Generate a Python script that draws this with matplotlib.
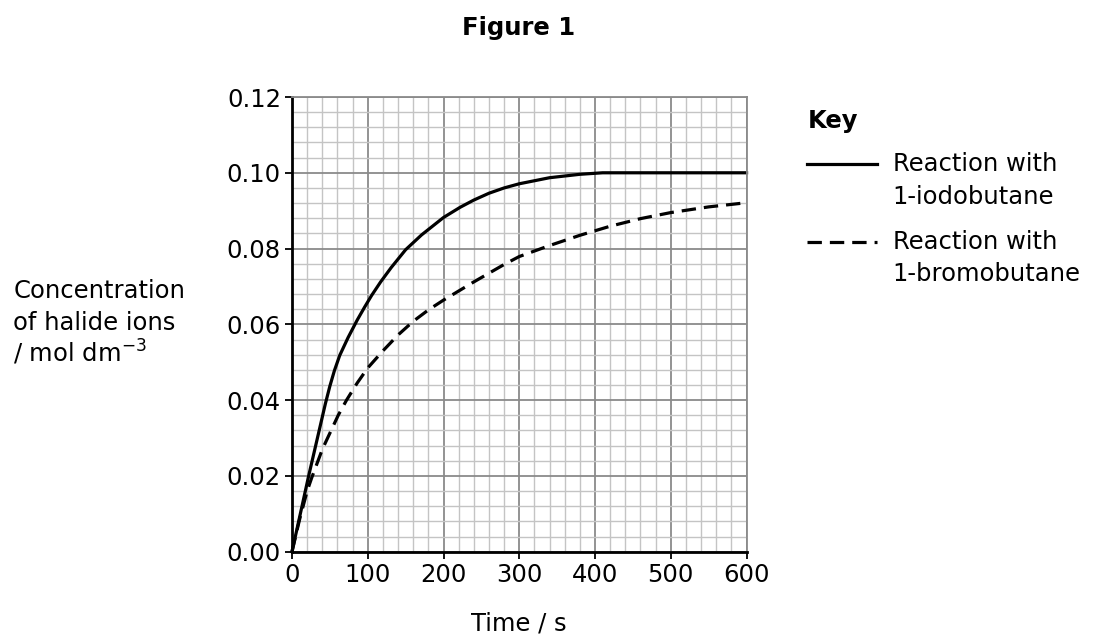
import numpy as np
import matplotlib
matplotlib.use("Agg")
import matplotlib.pyplot as plt
from matplotlib.ticker import MultipleLocator

plt.rcParams['font.family'] = ['DejaVu Sans']
plt.rcParams['mathtext.default'] = 'regular'

# values
iodo_t = [0, 22, 44, 50, 56, 63, 74, 86, 96, 105, 117, 131, 150, 171, 200, 222, 240, 260, 280, 300,
          340, 380, 410, 600]
iodo_c = [0, 0.0200, 0.0390, 0.0437, 0.0478, 0.0518, 0.0565, 0.0611, 0.0646, 0.0676, 0.0712, 0.0750,
          0.0797, 0.0836, 0.0882, 0.0909, 0.0928, 0.0946, 0.0960, 0.0971, 0.0987, 0.0996, 0.1000, 0.1000]

bromo_t = [0, 10, 20, 26, 40, 61, 72, 86, 100, 120, 140, 160, 180, 200, 240, 280, 300, 340, 380, 420,
           460, 500, 550, 600]
bromo_c = [0, 0.0085, 0.0160, 0.0195, 0.0270, 0.0360, 0.0400, 0.0445, 0.0485, 0.0530, 0.0572, 0.0608,
           0.0638, 0.0664, 0.0712, 0.0758, 0.0779, 0.0808, 0.0835, 0.0859, 0.0879, 0.0895, 0.0910, 0.0921]

x_ticks = [0, 100, 200, 300, 400, 500, 600]
y_ticks = [0.00, 0.02, 0.04, 0.06, 0.08, 0.10, 0.12]

fs = 17.5
lw = 2.3

fig = plt.figure(figsize=(10.94, 6.39), dpi=100)
ax = fig.add_axes([0.2669, 0.1366, 0.4155, 0.7116])

ax.set_xlim(0, 600)
ax.set_ylim(0, 0.12)
ax.set_xticks(x_ticks)
ax.set_yticks(y_ticks)
ax.set_yticklabels(['%.2f' % v for v in y_ticks])
ax.xaxis.set_minor_locator(MultipleLocator(20))
ax.yaxis.set_minor_locator(MultipleLocator(0.004))

ax.grid(which='minor', color='#c4c4c4', linewidth=1.0)
ax.grid(which='major', color='#8a8a8a', linewidth=1.3)
ax.set_axisbelow(True)

ax.tick_params(which='major', direction='out', length=5, width=1.3, labelsize=fs, pad=3)
ax.tick_params(which='minor', length=0)

for s in ['top', 'right']:
    ax.spines[s].set_color('#8a8a8a')
    ax.spines[s].set_linewidth(1.3)
for s in ['left', 'bottom']:
    ax.spines[s].set_color('black')
    ax.spines[s].set_linewidth(2.0)

ax.plot(iodo_t, iodo_c, color='black', lw=lw, solid_joinstyle='round', clip_on=False)
ax.plot(bromo_t, bromo_c, color='black', lw=lw, dashes=(4.5, 2.5), clip_on=False)

fig.text(0.474, 0.956, 'Figure 1', ha='center', va='center', fontsize=fs, fontweight='bold')
fig.text(0.474, 0.024, 'Time / s', ha='center', va='center', fontsize=fs)

fig.text(0.012, 0.545, 'Concentration', ha='left', va='center', fontsize=fs)
fig.text(0.012, 0.494, 'of halide ions', ha='left', va='center', fontsize=fs)
fig.text(0.012, 0.449, '/ mol dm$^{-3}$', ha='left', va='center', fontsize=fs)

# key
fig.text(0.738, 0.810, 'Key', ha='left', va='center', fontsize=fs, fontweight='bold')
fig.add_artist(plt.Line2D([0.738, 0.802], [0.743, 0.743], color='black', lw=lw, transform=fig.transFigure))
fig.add_artist(plt.Line2D([0.738, 0.802], [0.621, 0.621], color='black', lw=lw, dashes=(4.5, 2.5),
                          transform=fig.transFigure))
fig.text(0.816, 0.743, 'Reaction with', ha='left', va='center', fontsize=fs)
fig.text(0.816, 0.691, '1-iodobutane', ha='left', va='center', fontsize=fs)
fig.text(0.816, 0.621, 'Reaction with', ha='left', va='center', fontsize=fs)
fig.text(0.816, 0.571, '1-bromobutane', ha='left', va='center', fontsize=fs)

fig.savefig('out.png', dpi=100)
